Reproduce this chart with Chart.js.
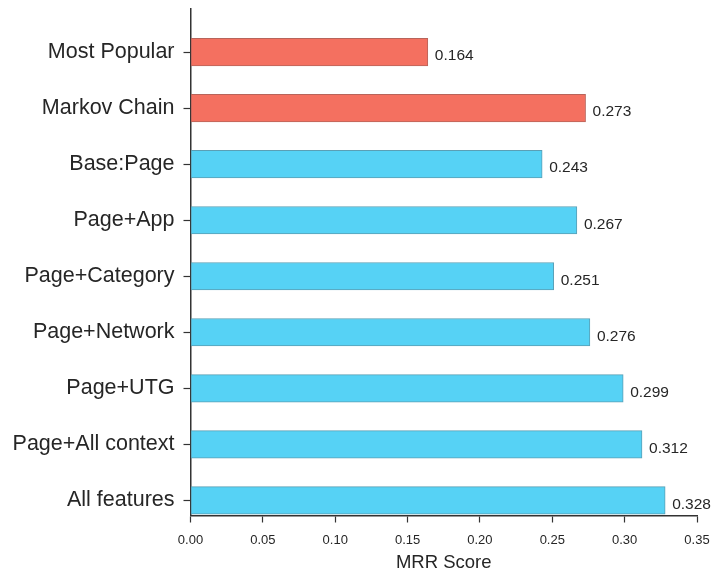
<!DOCTYPE html>
<html>
<head>
<meta charset="utf-8">
<script src="https://cdn.jsdelivr.net/npm/chart.js@4/dist/chart.umd.min.js"></script>
<style>
  html, body { margin: 0; padding: 0; background: #fff; }
  #wrap { width: 712px; height: 569px; }
</style>
</head>
<body>
<div id="wrap"><canvas id="barChart" width="712" height="569"></canvas></div>
<script>
// data
const methods = ['Most Popular', 'Markov Chain', 'Base:Page', 'Page+App', 'Page+Category',
                 'Page+Network', 'Page+UTG', 'Page+All context', 'All features'];
const mrr = [0.164, 0.273, 0.243, 0.267, 0.251, 0.276, 0.299, 0.312, 0.328];
const kind = ['baseline', 'baseline', 'ours', 'ours', 'ours', 'ours', 'ours', 'ours', 'ours'];
const xTicks = [0, 0.05, 0.10, 0.15, 0.20, 0.25, 0.30, 0.35];

const fill = { baseline: '#f47060', ours: '#56d2f5' };
const edge = { baseline: '#b8645a', ours: '#5a9fb5' };

const FONT = '"Liberation Sans", Arial, sans-serif';
const TXT = '#262626';

// numbers at the end of the bars
const valueLabels = {
    id: 'valueLabels',
    afterDatasetsDraw(chart) {
        const ctx = chart.ctx;
        const meta = chart.getDatasetMeta(0);
        ctx.save();
        ctx.font = '15.5px ' + FONT;
        ctx.fillStyle = TXT;
        ctx.textAlign = 'left';
        ctx.textBaseline = 'middle';
        meta.data.forEach((bar, i) => {
            ctx.fillText(mrr[i].toFixed(3), bar.x + 7, bar.y + 4);
        });
        ctx.restore();
    }
};

const ctx = document.getElementById('barChart').getContext('2d');
const chart = new Chart(ctx, {
    type: 'bar',
    data: {
        datasets: [{
            label: 'MRR',
            data: mrr.map((v, i) => ({ x: v, y: i })),
            backgroundColor: kind.map(k => fill[k]),
            borderColor: kind.map(k => edge[k]),
            borderWidth: 1,
            borderSkipped: false,
            barThickness: 27.5
        }]
    },
    options: {
        indexAxis: 'y',
        responsive: false,
        animation: false,
        layout: { padding: { top: 9, right: 15, left: 0, bottom: 0 } },
        plugins: {
            legend: { display: false },
            tooltip: { enabled: false }
        },
        scales: {
            y: {
                type: 'linear',
                reverse: true,
                offset: false,
                min: -0.77,
                max: 8.27,
                afterBuildTicks: (axis) => {
                    axis.ticks = methods.map((_, i) => ({ value: i }));
                },
                afterFit: (axis) => {
                    axis.width = 190.5;
                    axis.paddingTop = 0;
                    axis.paddingBottom = 0;
                },
                ticks: {
                    callback: (v) => methods[v],
                    font: { family: FONT, size: 21.5 },
                    color: TXT,
                    padding: 9,
                    autoSkip: false
                },
                grid: {
                    offset: false,
                    drawOnChartArea: false,
                    tickLength: 7,
                    tickColor: '#333',
                    tickWidth: 1.2
                },
                border: { color: '#333', width: 1.5 }
            },
            x: {
                type: 'linear',
                min: 0,
                max: 0.35,
                afterBuildTicks: (axis) => {
                    axis.ticks = xTicks.map(v => ({ value: v }));
                },
                afterFit: (axis) => {
                    axis.height = 53.5;
                    axis.paddingLeft = 0;
                    axis.paddingRight = 0;
                },
                ticks: {
                    callback: (v) => v.toFixed(2),
                    font: { family: FONT, size: 13 },
                    color: TXT,
                    padding: 10,
                    maxRotation: 0
                },
                grid: {
                    drawOnChartArea: false,
                    tickLength: 7,
                    tickColor: '#333',
                    tickWidth: 1.2
                },
                border: { color: '#333', width: 1.5 },
                title: {
                    display: true,
                    text: 'MRR Score',
                    font: { family: FONT, size: 18.5 },
                    color: TXT,
                    padding: { top: 0, bottom: -5 }
                }
            }
        }
    },
    plugins: [valueLabels]
});
</script>
</body>
</html>
